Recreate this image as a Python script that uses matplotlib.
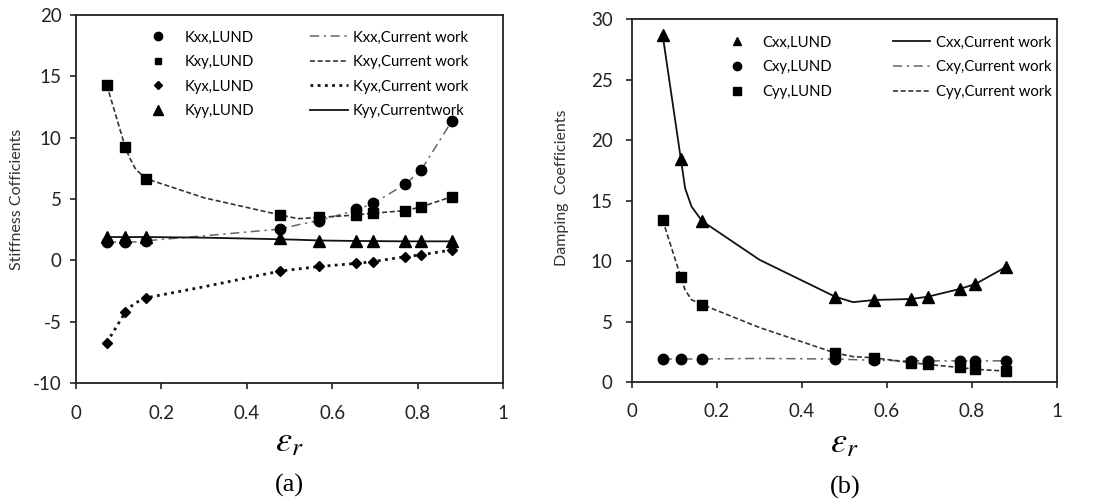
import matplotlib
matplotlib.use('Agg')
import matplotlib.pyplot as plt
from matplotlib.lines import Line2D

# ---------------- data ----------------
eps = [0.072, 0.115, 0.165, 0.478, 0.570, 0.656, 0.696, 0.771, 0.808, 0.881]
kxx_lund = [1.5, 1.5, 1.6, 2.55, 3.2, 4.15, 4.65, 6.2, 7.35, 11.4]
kxy_lund = [14.3, 9.25, 6.65, 3.7, 3.5, 3.7, 3.85, 4.05, 4.35, 5.2]
kyx_lund = [-6.7, -4.25, -3.05, -0.87, -0.5, -0.25, -0.1, 0.3, 0.45, 0.85]
kyy_lund = [1.9, 1.9, 1.9, 1.8, 1.6, 1.6, 1.6, 1.6, 1.6, 1.6]

cxx_lund = [28.7, 18.4, 13.3, 7.05, 6.78, 6.86, 7.05, 7.69, 8.1, 9.53]
cxy_lund = [1.9, 1.9, 1.9, 1.9, 1.8, 1.75, 1.75, 1.75, 1.75, 1.75]
cyy_lund = [13.4, 8.65, 6.4, 2.4, 2.0, 1.6, 1.45, 1.2, 1.05, 0.9]

eps_cw = [0.072, 0.115, 0.125, 0.14, 0.165, 0.3, 0.478, 0.52, 0.570, 0.656, 0.696, 0.771, 0.808, 0.881]
kxx_cw = [1.5, 1.5, 1.5, 1.5, 1.6, 2.0, 2.55, 2.9, 3.25, 4.1, 4.65, 6.2, 7.35, 11.4]
kxy_cw = [14.3, 9.25, 8.4, 7.4, 6.65, 5.1, 3.7, 3.4, 3.5, 3.7, 3.85, 4.05, 4.35, 5.2]
kyx_cw = [-6.7, -4.25, -3.85, -3.45, -3.05, -2.15, -0.87, -0.7, -0.5, -0.25, -0.1, 0.3, 0.45, 0.85]
kyy_cw = [1.9, 1.9, 1.9, 1.9, 1.9, 1.85, 1.72, 1.68, 1.62, 1.58, 1.57, 1.55, 1.55, 1.55]

cxx_cw = [28.7, 18.4, 16.0, 14.5, 13.3, 10.1, 7.05, 6.6, 6.78, 6.86, 7.05, 7.69, 8.1, 9.53]
cxy_cw = [1.9, 1.9, 1.9, 1.9, 1.9, 1.95, 1.9, 1.85, 1.8, 1.75, 1.75, 1.75, 1.75, 1.75]
cyy_cw = [13.4, 8.65, 7.6, 6.8, 6.4, 4.5, 2.4, 2.1, 2.0, 1.6, 1.45, 1.2, 1.05, 0.9]

k_xticks = [0, 0.2, 0.4, 0.6, 0.8, 1]
k_xticklabels = ['0', '0.2', '0.4', '0.6', '0.8', '1']
k_yticks = [-10, -5, 0, 5, 10, 15, 20]
c_yticks = [0, 5, 10, 15, 20, 25, 30]

# ---------------- style ----------------
plt.rcParams['font.family'] = ['Lato', 'DejaVu Sans']
plt.rcParams['mathtext.fontset'] = 'stix'
plt.rcParams['axes.unicode_minus'] = False

fig = plt.figure(figsize=(10.99, 5.01), dpi=100)
ax1 = fig.add_axes([0.0692, 0.2355, 0.3885, 0.7345])
ax2 = fig.add_axes([0.5751, 0.2375, 0.3867, 0.7245])

DASHDOT = (0, (6, 3, 1.5, 3))
DASHED = (0, (3, 1.6))
DOTTED = (0, (1, 1.6))

# ---- panel (a) ----
ax1.plot(eps_cw, kxx_cw, color='#666666', lw=1.1, ls=DASHDOT, zorder=2)
ax1.plot(eps_cw, kxy_cw, color='#333333', lw=1.2, ls=DASHED, zorder=2)
ax1.plot(eps_cw, kyx_cw, color='#111111', lw=2.0, ls=DOTTED, zorder=2)
ax1.plot(eps_cw, kyy_cw, color='#111111', lw=1.3, ls='-', zorder=2)

ax1.plot(eps, kxx_lund, 'o', color='black', ms=7.5, zorder=3)
ax1.plot(eps, kxy_lund, 's', color='black', ms=6.5, zorder=3)
ax1.plot(eps, kyx_lund, 'D', color='black', ms=5.5, zorder=3)
ax1.plot(eps, kyy_lund, '^', color='black', ms=8, zorder=4)

ax1.set_xlim(0, 1)
ax1.set_ylim(-10, 20)
ax1.set_xticks(k_xticks)
ax1.set_xticklabels(k_xticklabels)
ax1.set_yticks(k_yticks)

# ---- panel (b) ----
ax2.plot(eps_cw, cxx_cw, color='#111111', lw=1.3, ls='-', zorder=2)
ax2.plot(eps_cw, cxy_cw, color='#666666', lw=1.1, ls=DASHDOT, zorder=2)
ax2.plot(eps_cw, cyy_cw, color='#333333', lw=1.2, ls=DASHED, zorder=2)

ax2.plot(eps, cxx_lund, '^', color='black', ms=8, zorder=3)
ax2.plot(eps, cxy_lund, 'o', color='black', ms=7.5, zorder=3)
ax2.plot(eps, cyy_lund, 's', color='black', ms=6.5, zorder=3)

ax2.set_xlim(0, 1)
ax2.set_ylim(0, 30)
ax2.set_xticks(k_xticks)
ax2.set_xticklabels(k_xticklabels)
ax2.set_yticks(c_yticks)

for ax, ypad, xpad in ((ax1, 6.5, 11.5), (ax2, 10, 11)):
    for sp in ax.spines.values():
        sp.set_linewidth(1.3)
        sp.set_color('#222222')
    ax.tick_params(axis='both', direction='out', length=4, width=1.2, labelsize=13.5, colors='#222222')
    ax.tick_params(axis='y', pad=ypad)
    ax.tick_params(axis='x', pad=xpad)

ax1.set_ylabel('Stiffness Cofficients', fontsize=11.5, color='#333333')
ax1.yaxis.set_label_coords(-0.122, 0.5)
ax2.set_ylabel('Damping  Coefficients', fontsize=11.5, color='#333333')
ax2.yaxis.set_label_coords(-0.148, 0.534)

# ---- legends ----
LEG_FS = 10.7
mk1 = [Line2D([], [], marker='o', ls='none', color='black', ms=6),
       Line2D([], [], marker='s', ls='none', color='black', ms=4),
       Line2D([], [], marker='D', ls='none', color='black', ms=4.5),
       Line2D([], [], marker='^', ls='none', color='black', ms=6.5)]
mk1_labels = ['Kxx,LUND', 'Kxy,LUND', 'Kyx,LUND', 'Kyy,LUND']
ln1 = [Line2D([], [], color='#666666', lw=1.1, ls=DASHDOT),
       Line2D([], [], color='#333333', lw=1.2, ls=DASHED),
       Line2D([], [], color='#111111', lw=2.0, ls=DOTTED),
       Line2D([], [], color='#111111', lw=1.3, ls='-')]
ln1_labels = ['Kxx,Current work', 'Kxy,Current work', 'Kyx,Current work', 'Kyy,Currentwork']

common = dict(loc='upper left', frameon=False, fontsize=LEG_FS, borderpad=0,
              labelspacing=0.71, borderaxespad=0)
leg_a = ax1.legend(mk1, mk1_labels, bbox_to_anchor=(0.171, 0.958),
                   handlelength=1.2, handletextpad=1.2, **common)
ax1.add_artist(leg_a)
ax1.legend(ln1, ln1_labels, bbox_to_anchor=(0.548, 0.958),
           handlelength=2.55, handletextpad=0.34, **common)

mk2 = [Line2D([], [], marker='^', ls='none', color='black', ms=5.5),
       Line2D([], [], marker='o', ls='none', color='black', ms=6),
       Line2D([], [], marker='s', ls='none', color='black', ms=5.5)]
mk2_labels = ['Cxx,LUND', 'Cxy,LUND', 'Cyy,LUND']
ln2 = [Line2D([], [], color='#111111', lw=1.3, ls='-'),
       Line2D([], [], color='#666666', lw=1.1, ls=DASHDOT),
       Line2D([], [], color='#333333', lw=1.2, ls=DASHED)]
ln2_labels = ['Cxx,Current work', 'Cxy,Current work', 'Cyy,Current work']

common2 = dict(common)
common2['labelspacing'] = 0.73
leg_b = ax2.legend(mk2, mk2_labels, bbox_to_anchor=(0.226, 0.9545),
                   handlelength=1.2, handletextpad=1.08, **common2)
ax2.add_artist(leg_b)
ax2.legend(ln2, ln2_labels, bbox_to_anchor=(0.614, 0.9545),
           handlelength=2.5, handletextpad=0.4, **common2)

# ---- x labels & captions ----
fig.text(0.263, 0.118, r'$\varepsilon_r$', fontsize=26, ha='center', va='center')
fig.text(0.768, 0.116, r'$\varepsilon_r$', fontsize=26, ha='center', va='center')
fig.text(0.263, 0.032, '(a)', fontsize=19, ha='center', va='center', family='Liberation Serif')
fig.text(0.769, 0.028, '(b)', fontsize=19, ha='center', va='center', family='Liberation Serif')

fig.savefig('out.png', dpi=100)
